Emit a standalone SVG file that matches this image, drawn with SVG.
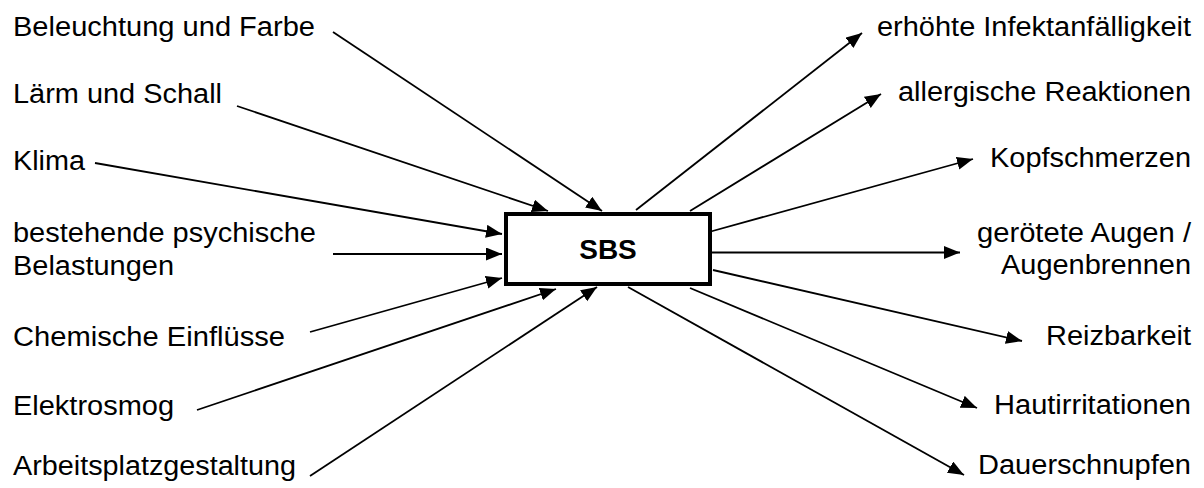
<svg xmlns="http://www.w3.org/2000/svg" width="1204" height="488" viewBox="0 0 1204 488">
<style>
.lbl{font-family:"Liberation Sans",Arial,sans-serif;font-size:27px;fill:#000}
.r{text-anchor:end}
.c line{stroke:#000;stroke-width:1.8;fill:none;marker-end:url(#ah)}
</style>
<defs>
<marker id="ah" markerUnits="userSpaceOnUse" markerWidth="17" markerHeight="14" refX="16" refY="6.5" orient="auto">
<path d="M0,0 L16,6.5 L0,13 Z" fill="#000"/>
</marker>
</defs>
<rect width="1204" height="488" fill="#fff"/>
<g id="connectors" class="c">
<line x1="333" y1="32" x2="602" y2="211"/>
<line x1="237" y1="106" x2="548" y2="211"/>
<line x1="95" y1="163" x2="502" y2="234"/>
<line x1="333" y1="254" x2="502" y2="254"/>
<line x1="310" y1="332" x2="502" y2="278"/>
<line x1="197" y1="410" x2="556" y2="289"/>
<line x1="310" y1="476" x2="597" y2="287"/>
<line x1="636" y1="210" x2="862" y2="33"/>
<line x1="690" y1="211" x2="881" y2="94"/>
<line x1="709" y1="232" x2="973" y2="159"/>
<line x1="712" y1="252.5" x2="960" y2="252.5"/>
<line x1="713" y1="270" x2="1022" y2="341"/>
<line x1="690" y1="288" x2="977" y2="408"/>
<line x1="628" y1="287" x2="964" y2="475"/>
</g>
<g id="sbs">
<rect x="506" y="214" width="204" height="70" fill="#fff" stroke="#000" stroke-width="4"/>
<text x="608" y="259" text-anchor="middle" font-family="Liberation Sans, Arial, sans-serif" font-size="28" font-weight="bold">SBS</text>
</g>
<g id="in-beleuchtung"><text class="lbl" x="13" y="36" textLength="302" lengthAdjust="spacingAndGlyphs">Beleuchtung und Farbe</text></g>
<g id="in-laerm"><text class="lbl" x="13" y="103" textLength="209" lengthAdjust="spacingAndGlyphs">Lärm und Schall</text></g>
<g id="in-klima"><text class="lbl" x="13" y="170" textLength="72" lengthAdjust="spacingAndGlyphs">Klima</text></g>
<g id="in-psych"><text class="lbl" x="13" y="242" textLength="303" lengthAdjust="spacingAndGlyphs">bestehende psychische</text><text class="lbl" x="13" y="275" textLength="161" lengthAdjust="spacingAndGlyphs">Belastungen</text></g>
<g id="in-chem"><text class="lbl" x="13" y="346" textLength="272" lengthAdjust="spacingAndGlyphs">Chemische Einflüsse</text></g>
<g id="in-elektro"><text class="lbl" x="13" y="415" textLength="161" lengthAdjust="spacingAndGlyphs">Elektrosmog</text></g>
<g id="in-arbeit"><text class="lbl" x="13" y="475" textLength="283" lengthAdjust="spacingAndGlyphs">Arbeitsplatzgestaltung</text></g>
<g id="out-infekt"><text class="lbl r" x="1191" y="36" textLength="314" lengthAdjust="spacingAndGlyphs">erhöhte Infektanfälligkeit</text></g>
<g id="out-allerg"><text class="lbl r" x="1191" y="101" textLength="293" lengthAdjust="spacingAndGlyphs">allergische Reaktionen</text></g>
<g id="out-kopf"><text class="lbl r" x="1191" y="167" textLength="201" lengthAdjust="spacingAndGlyphs">Kopfschmerzen</text></g>
<g id="out-augen"><text class="lbl r" x="1191" y="242" textLength="214" lengthAdjust="spacingAndGlyphs">gerötete Augen /</text><text class="lbl r" x="1191" y="274" textLength="190" lengthAdjust="spacingAndGlyphs">Augenbrennen</text></g>
<g id="out-reiz"><text class="lbl r" x="1191" y="345" textLength="145" lengthAdjust="spacingAndGlyphs">Reizbarkeit</text></g>
<g id="out-haut"><text class="lbl r" x="1191" y="414" textLength="197" lengthAdjust="spacingAndGlyphs">Hautirritationen</text></g>
<g id="out-dauer"><text class="lbl r" x="1191" y="474" textLength="213" lengthAdjust="spacingAndGlyphs">Dauerschnupfen</text></g>
</svg>
